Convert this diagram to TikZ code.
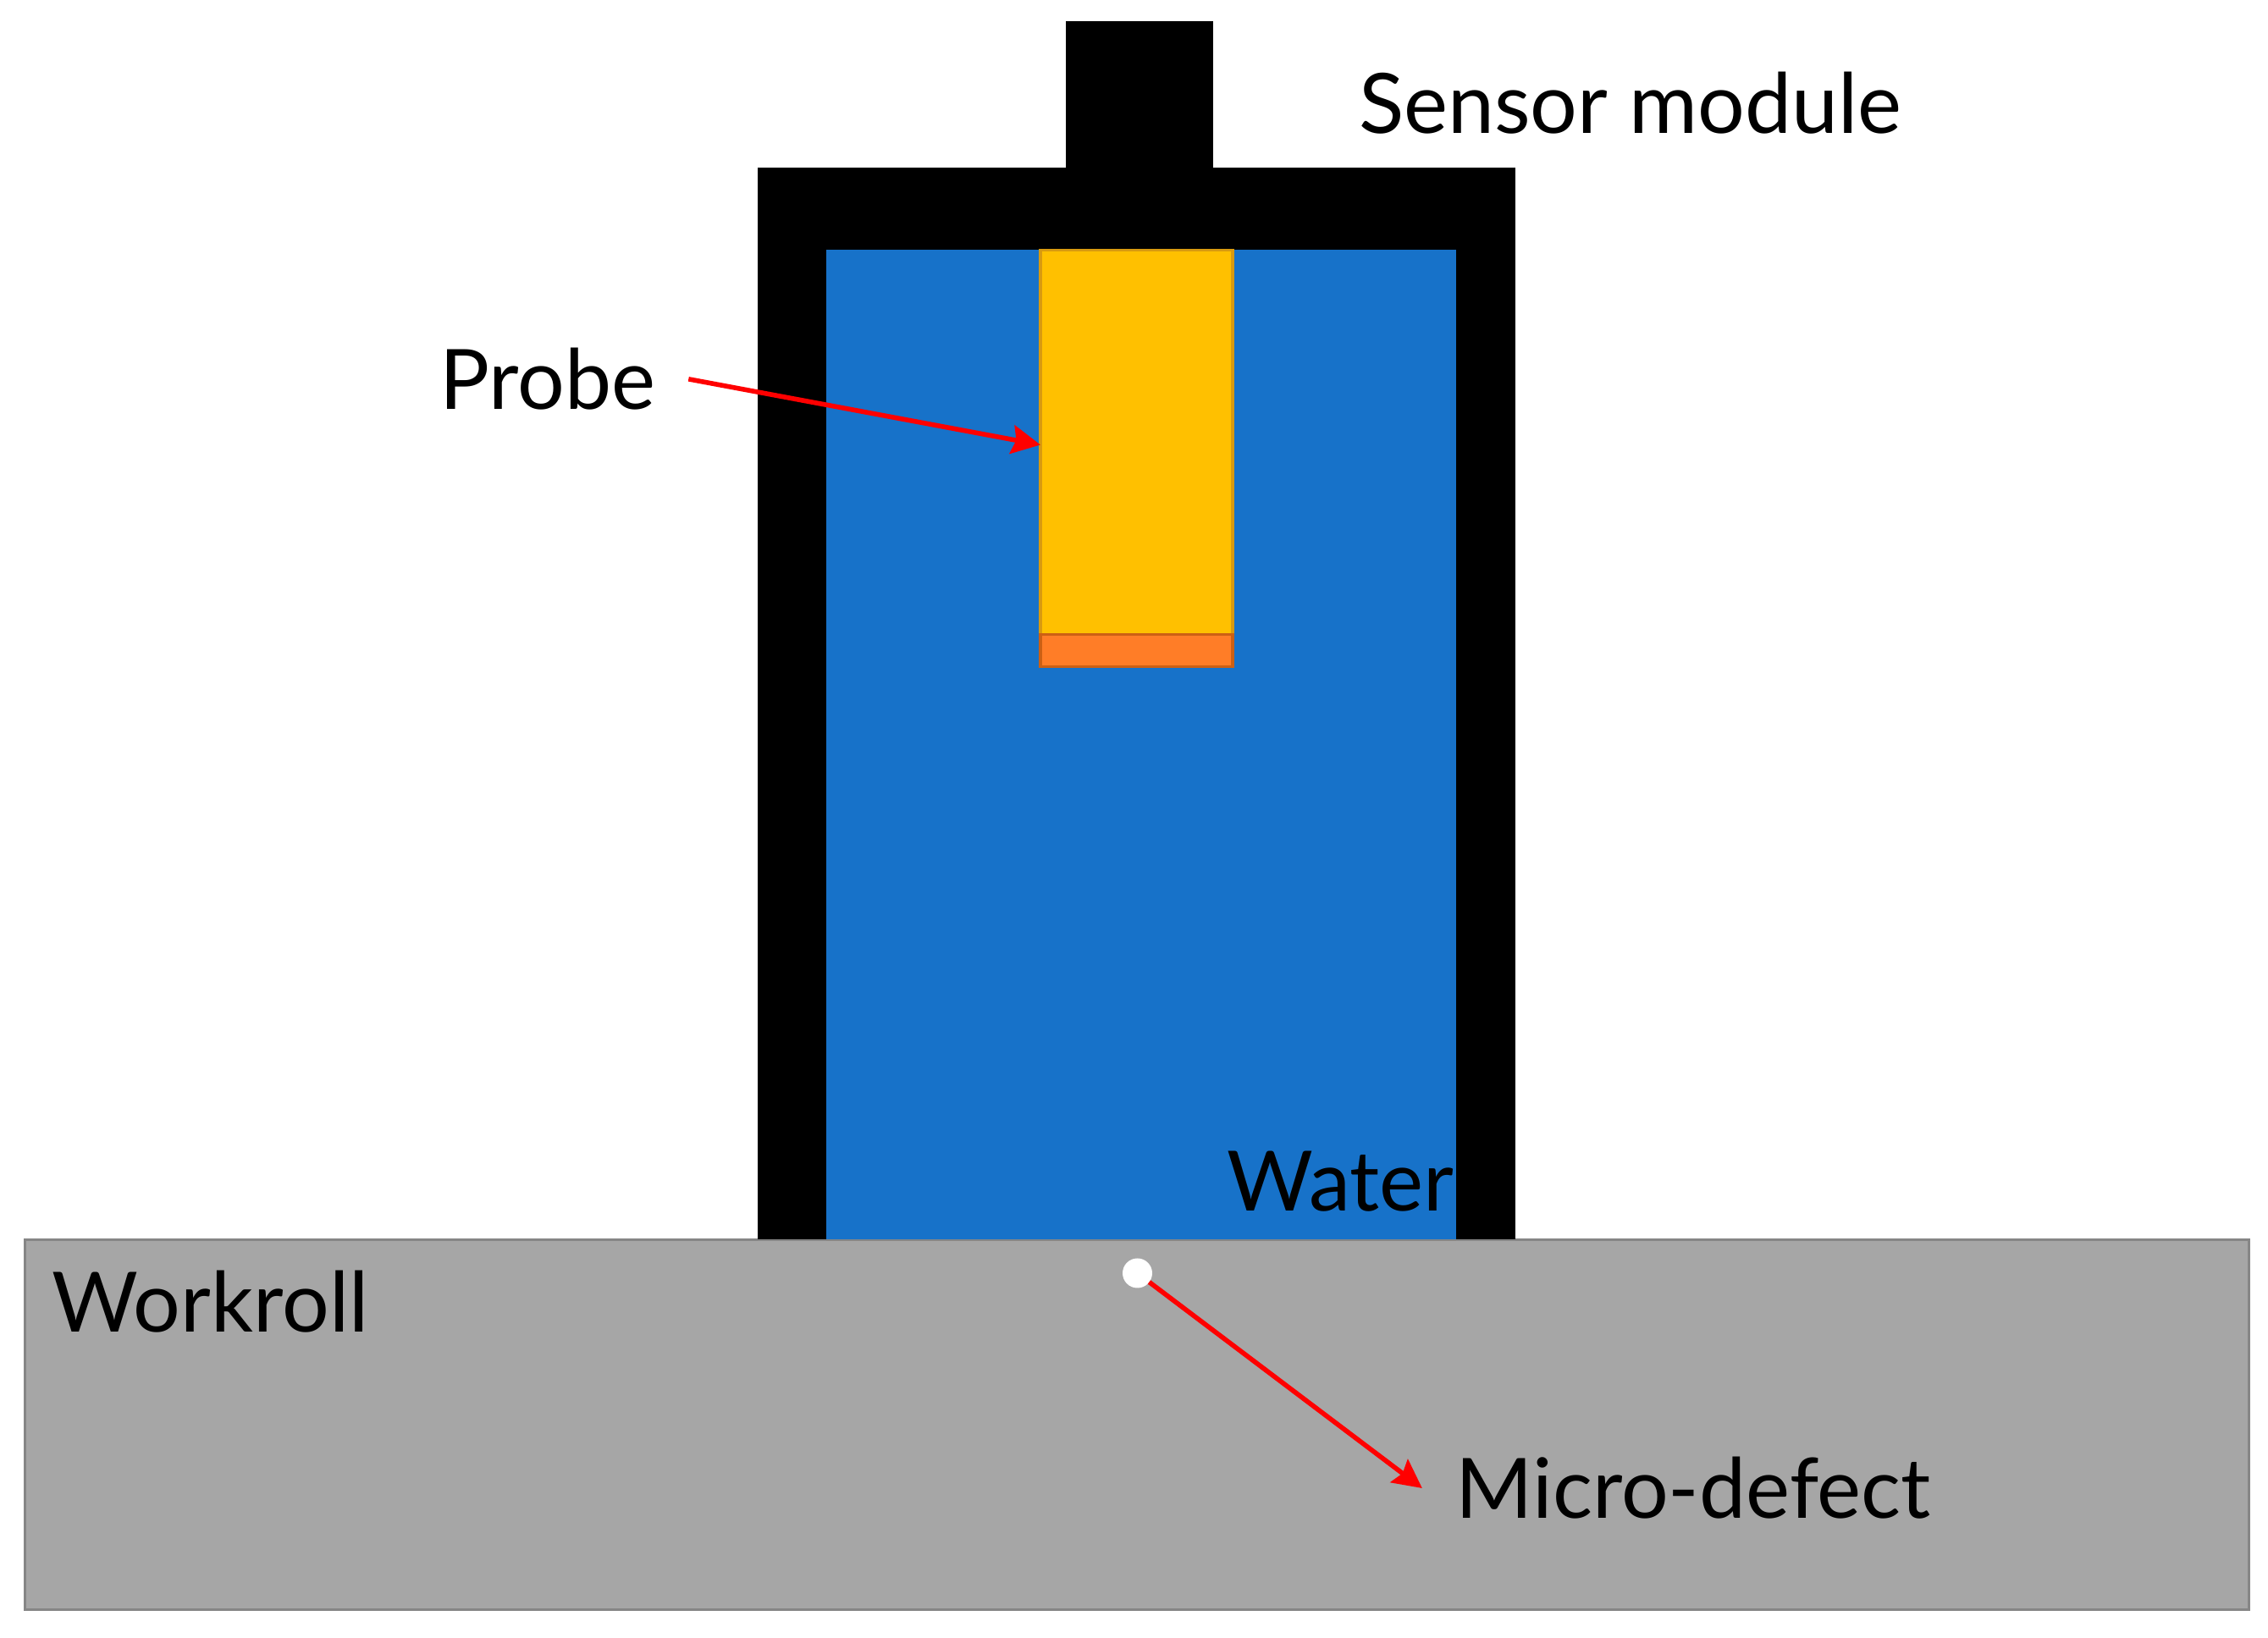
\documentclass[tikz,border=0pt]{standalone}
\usepackage{fontspec}
\setmainfont{Lato}
\usepackage{xcolor}
\usepackage{tikz}
\usetikzlibrary{positioning,arrows.meta}
\definecolor{rollgray}{HTML}{A6A6A6}
\definecolor{rollline}{HTML}{868686}
\definecolor{waterblue}{HTML}{1772C9}
\definecolor{probeyellow}{HTML}{FFC000}
\definecolor{probeline}{HTML}{D89A10}
\definecolor{tiporange}{HTML}{FF7D27}
\definecolor{tipline}{HTML}{CC6014}

\begin{document}
\begin{tikzpicture}[
  node distance=0cm,
  box/.style={rectangle, inner sep=0pt, outer sep=0pt},
  workroll/.style={box, fill=rollgray, draw=rollline, line width=1.1pt, minimum width=26.27cm, minimum height=4.37cm},
  housing/.style={box, fill=black, minimum width=8.95cm, minimum height=12.66cm},
  stem/.style={box, fill=black, minimum width=1.74cm, minimum height=1.73cm},
  water/.style={box, fill=waterblue, minimum width=7.44cm, minimum height=11.69cm},
  probe/.style={box, fill=probeyellow, draw=probeline, line width=1.1pt, minimum width=2.27cm, minimum height=4.54cm},
  tip/.style={box, fill=tiporange, draw=tipline, line width=1.1pt, minimum width=2.27cm, minimum height=0.38cm},
  defect/.style={circle, fill=white, inner sep=0pt, outer sep=0pt, minimum size=0.35cm},
  lbl/.style={inner sep=0pt, outer sep=0pt, font=\fontsize{28}{30}\selectfont},
  arr/.style={-{Stealth[length=0.34cm, width=0.34cm, inset=0.05cm]}, line width=1.6pt, red}
]
\useasboundingbox (0,0) rectangle (26.79,19.34);

% Workroll
\node[workroll] (roll) at (13.43,2.51) {};

% Sensor module
\node[housing, above=0cm of roll, xshift=-0.01cm] (house) {};
\node[stem, above=0cm of house, xshift=0.04cm] (neck) {};
\node[water, above=0cm of roll, xshift=0.05cm] (tank) {};
\node[probe, below=0cm of tank.north, xshift=-0.055cm] (sensor) {};
\node[tip, below=0cm of sensor] (face) {};

% Micro-defect
\node[defect, below=0.22cm of roll.north, xshift=0.005cm] (flaw) {};

% Labels
\node[lbl, right=1.72cm of neck, yshift=-0.1cm] (lblmodule) {Sensor module};
\node[lbl, left=4.55cm of sensor, yshift=0.75cm] (lblprobe) {Probe};
\node[lbl, above left=0.33cm and 0.03cm of tank.south east] (lblwater) {Water};
\node[lbl, below right=0.37cm and 0.32cm of roll.north west] (lblroll) {Workroll};
\node[lbl, below right=2.05cm and 3.64cm of flaw.south east] (lbldefect) {Micro-defect};
\coordinate[left=0.4cm of lbldefect.west] (flawend);

% Arrows
\draw[arr, shorten <=0.4cm] ([yshift=0.07cm]lblprobe.east) -- ([yshift=-0.03cm]sensor.west);
\draw[arr] (flaw) -- (flawend);
\end{tikzpicture}
\end{document}
